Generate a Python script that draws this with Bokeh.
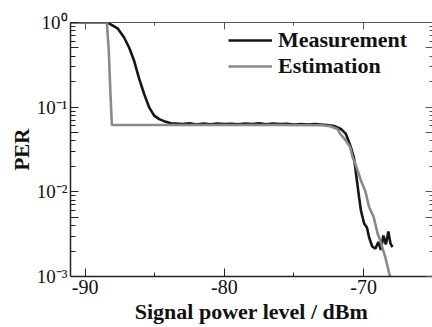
from bokeh.plotting import figure
from bokeh.models import FixedTicker, LinearAxis, LogAxis, Legend, LegendItem
from bokeh.embed import file_html
from bokeh.resources import INLINE

# ---- data ----
meas_x = [-91.1, -88.9, -88.39, -87.67, -87.20, -86.84, -86.48, -86.12, -85.76, -85.40,
          -85.04, -84.68, -84.33, -83.84, -83.5, -83.0, -82.5, -82.0, -81.5, -81.0,
          -80.5, -80.0, -79.5, -79.0, -78.5, -78.0, -77.5, -77.0, -76.5, -76.0,
          -75.5, -75.0, -74.5, -74.0, -73.5, -73.07, -72.64, -72.11, -71.63, -71.27,
          -70.91, -70.68, -70.48, -70.32, -70.19, -69.96, -69.76, -69.60, -69.38, -69.15,
          -68.94, -68.76, -68.58, -68.40, -68.22, -68.07, -67.93]
meas_y = [1.0, 1.0, 1.0, 0.855, 0.665, 0.507, 0.353, 0.217, 0.143, 0.0995,
          0.0794, 0.0722, 0.0684, 0.0647, 0.0640, 0.0630, 0.0645, 0.0625, 0.0640, 0.0628,
          0.0642, 0.0630, 0.0638, 0.0626, 0.0640, 0.0632, 0.0645, 0.0628, 0.0640, 0.0630,
          0.0636, 0.0625, 0.0632, 0.0624, 0.0630, 0.0623, 0.0615, 0.0600, 0.0553, 0.0483,
          0.0336, 0.0247, 0.0136, 0.00857, 0.00601, 0.00423, 0.00379, 0.00289, 0.00226, 0.00214,
          0.00256, 0.00206, 0.00305, 0.00239, 0.00340, 0.00246, 0.00223]

est_x = [-91.1, -88.44, -88.30, -88.19, -88.08, -84.0, -80.0, -76.0, -73.0, -72.4,
         -71.87, -71.68, -71.27, -70.96, -70.79, -70.60, -70.19, -69.89, -69.60, -69.28,
         -68.99, -68.81, -68.52, -68.45, -68.13, -68.05]
est_y = [1.0, 1.0, 0.464, 0.157, 0.0615, 0.0615, 0.0615, 0.0615, 0.0612, 0.0595,
         0.0553, 0.0483, 0.0403, 0.0336, 0.0256, 0.0216, 0.0136, 0.0104, 0.00658, 0.00507,
         0.00320, 0.00269, 0.00186, 0.00171, 0.00104, 0.00098]

x_major = [-90, -80, -70]
x_major_labels = ["-90", "-80", "-70"]
x_minor = [-85, -75]
y_major = [1e-3, 1e-2, 1e-1, 1.0]
y_major_labels = ["10⁻³", "10⁻²", "10⁻¹", "10⁰"]
y_mid = [5e-3, 5e-2, 5e-1]
y_minor = [m * d for d in (1e-3, 1e-2, 1e-1) for m in (2, 3, 4, 6, 7, 8, 9)]

FONT = "Liberation Serif"
AX = "#222222"

p = figure(width=432, height=327, x_range=(-91.05, -65.05), y_range=(1e-3, 1.0),
           y_axis_type="log", output_backend="svg", toolbar_location=None,
           min_border_left=70, min_border_right=0, min_border_top=22, min_border_bottom=51)
p.outline_line_color = None
p.xgrid.visible = False
p.ygrid.visible = False
p.background_fill_color = "white"
p.border_fill_color = "white"

overrides = {v: l for v, l in zip(y_major, y_major_labels)}
overrides.update({v: "" for v in y_mid})

yt = FixedTicker(ticks=y_major + y_mid, minor_ticks=y_minor)
xt = FixedTicker(ticks=x_major, minor_ticks=x_minor)

# left axis
ya = p.yaxis[0]
ya.ticker = yt
ya.major_label_overrides = overrides
ya.axis_label = "PER"
ya.axis_label_text_font = FONT
ya.axis_label_text_font_style = "bold"
ya.axis_label_text_font_size = "21px"
ya.axis_label_text_color = "#111111"
ya.axis_label_standoff = 0
ya.major_label_text_font = FONT
ya.major_label_text_font_size = "19px"
ya.major_label_text_color = "#111111"
ya.major_label_standoff = 3
ya.major_tick_in = 8
ya.major_tick_out = 0
ya.minor_tick_in = 5
ya.minor_tick_out = 0
ya.axis_line_color = AX
ya.axis_line_width = 1.5
ya.major_tick_line_color = AX
ya.minor_tick_line_color = AX

# bottom axis
xa = p.xaxis[0]
xa.ticker = xt
xa.major_label_overrides = {v: l for v, l in zip(x_major, x_major_labels)}
xa.axis_label = "Signal power level / dBm"
xa.axis_label_text_font = FONT
xa.axis_label_text_font_style = "bold"
xa.axis_label_text_font_size = "22px"
xa.axis_label_text_color = "#111111"
xa.axis_label_standoff = 2
xa.major_label_text_font = FONT
xa.major_label_text_font_size = "20px"
xa.major_label_text_color = "#111111"
xa.major_label_standoff = 3
xa.major_tick_in = 8
xa.major_tick_out = 0
xa.minor_tick_in = 4
xa.minor_tick_out = 0
xa.axis_line_color = AX
xa.axis_line_width = 1.5
xa.major_tick_line_color = AX
xa.minor_tick_line_color = AX

# top axis (ticks only)
ta = LinearAxis(ticker=xt, major_label_overrides={v: "" for v in x_major},
                major_label_text_font_size="0px", major_label_standoff=0,
                major_tick_in=7, major_tick_out=0, minor_tick_in=3, minor_tick_out=0,
                axis_line_color="#555555", axis_line_width=1.2,
                major_tick_line_color="#555555", minor_tick_line_color="#555555")
p.add_layout(ta, "above")

# right axis (ticks only)
ra = LogAxis(ticker=yt, major_label_overrides={v: "" for v in y_major + y_mid},
             major_label_text_font_size="0px", major_label_standoff=0,
             major_tick_in=7, major_tick_out=0, minor_tick_in=3, minor_tick_out=0,
             axis_line_color=None,
             major_tick_line_color="#555555", minor_tick_line_color="#555555")
p.add_layout(ra, "right")

r_meas = p.line(meas_x, meas_y, line_color="#161616", line_width=2.6)
r_est = p.line(est_x, est_y, line_color="#8a8a8a", line_width=2.6)

legend = Legend(items=[LegendItem(label="Measurement", renderers=[r_meas]),
                       LegendItem(label="Estimation", renderers=[r_est])],
                location=(158, 197))
legend.label_text_font = FONT
legend.label_text_font_style = "bold"
legend.label_text_font_size = "22px"
legend.label_text_color = "#111111"
legend.glyph_width = 44
legend.glyph_height = 22
legend.label_height = 22
legend.label_standoff = 6
legend.spacing = -7
legend.padding = 0
legend.margin = 0
legend.border_line_color = None
legend.background_fill_alpha = 0
p.add_layout(legend)

open("out.html", "w").write(file_html(p, INLINE))
